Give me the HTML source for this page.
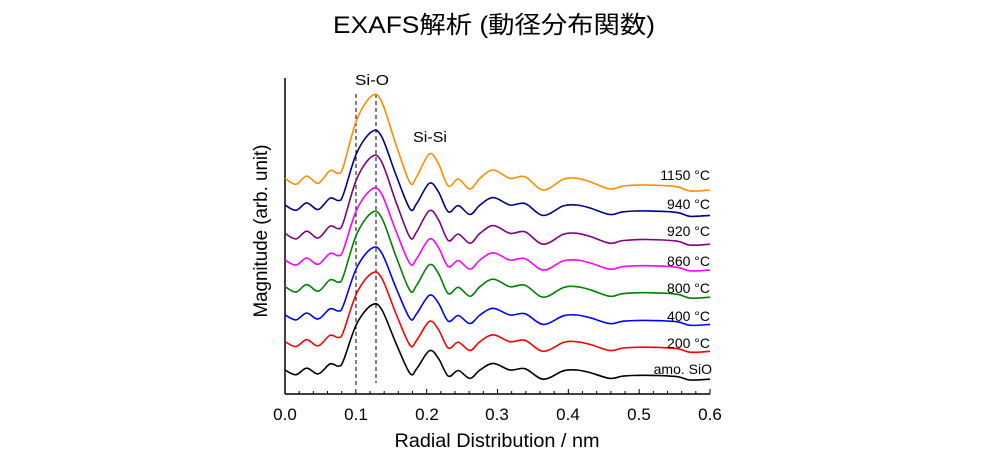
<!DOCTYPE html>
<html><head><meta charset="utf-8"><style>
body{margin:0;background:#fff;}
svg text{font-family:"Liberation Sans","Noto Sans CJK JP",sans-serif;}
</style></head><body>
<svg id="s" width="1000" height="459" xmlns="http://www.w3.org/2000/svg">
<text x="494" y="33" font-size="24" text-anchor="middle" textLength="322" lengthAdjust="spacingAndGlyphs">EXAFS解析 (動径分布関数)</text>
<line x1="285" y1="78" x2="285" y2="394" stroke="#000" stroke-width="1.5"/>
<line x1="285" y1="394" x2="710" y2="394" stroke="#000" stroke-width="1.5"/>
<g id="ticks" stroke="#000" stroke-width="1"></g>
<g font-size="17" text-anchor="middle">
<text x="285" y="420">0.0</text><text x="356" y="420">0.1</text><text x="427" y="420">0.2</text>
<text x="497" y="420">0.3</text><text x="568" y="420">0.4</text><text x="639" y="420">0.5</text><text x="710" y="420">0.6</text>
</g>
<text x="497" y="447" font-size="19" text-anchor="middle" textLength="205" lengthAdjust="spacingAndGlyphs">Radial Distribution / nm</text>
<text transform="translate(267,231) rotate(-90)" font-size="19" text-anchor="middle" textLength="173" lengthAdjust="spacingAndGlyphs">Magnitude (arb. unit)</text>
<line x1="356" y1="94" x2="356" y2="388" stroke="#000" stroke-dasharray="4,3" stroke-width="1"/>
<line x1="376" y1="94" x2="376" y2="383" stroke="#000" stroke-dasharray="4,3" stroke-width="1"/>
<text x="372" y="85" font-size="15" text-anchor="middle" textLength="34" lengthAdjust="spacingAndGlyphs">Si-O</text>
<text x="430" y="142" font-size="15" text-anchor="middle" textLength="34" lengthAdjust="spacingAndGlyphs">Si-Si</text>
<g id="curves" fill="none" stroke-width="1.6"></g>
<g font-size="14" text-anchor="end">
<text x="710" y="180">1150 °C</text><text x="710" y="209">940 °C</text><text x="710" y="236">920 °C</text>
<text x="710" y="266">860 °C</text><text x="710" y="293">800 °C</text><text x="710" y="321">400 °C</text>
<text x="710" y="348">200 °C</text><text x="712" y="374">amo. SiO</text>
</g>
</svg>
<script>
var t=document.getElementById('ticks'),h='';
for(var i=0;i<=30;i++){var x=285+i*425/30;var L=i%5==0?5:3;h+='<line x1="'+x+'" y1="394" x2="'+x+'" y2="'+(394-L)+'"/>';}
t.innerHTML=h;
var P=[[45,325],[78,343],[110,318],[145,340],[180,302],[205,310],[220,290],[260,150],[305,78],[335,95],[380,230],[420,338],[440,320],[478,252],[505,280],[535,348],[565,327],[600,357],[630,325],[670,300],[720,325],[765,320],[820,360],[880,328],[920,325],[960,335],[1020,357],[1060,348],[1130,345],[1220,350],[1260,363],[1320,360]];
var C=[['#ff8c00',325,247],['#00008b',405,220],['#800080',490,230],['#ff00ff',570,212],['#008000',650,222],['#0000ff',735,200],['#ff0000',815,205],['#000000',900,195]];
function path(pts){var d='M'+pts[0][0]+','+pts[0][1];for(var i=0;i<pts.length-1;i++){var p0=pts[i-1]||pts[i],p1=pts[i],p2=pts[i+1],p3=pts[i+2]||p2;
d+=' C'+(p1[0]+(p2[0]-p0[0])/6).toFixed(1)+','+(p1[1]+(p2[1]-p0[1])/6).toFixed(1)+' '+(p2[0]-(p3[0]-p1[0])/6).toFixed(1)+','+(p2[1]-(p3[1]-p1[1])/6).toFixed(1)+' '+p2[0].toFixed(1)+','+p2[1].toFixed(1);}return d;}
var g='';C.forEach(function(c){var s=c[2]/247;var pts=P.map(function(p){return [270+p[0]/3,70+(c[1]+s*(p[1]-325))/3];});
g+='<path stroke="'+c[0]+'" d="'+path(pts)+'"/>';});
document.getElementById('curves').innerHTML=g;
</script>
</body></html>
